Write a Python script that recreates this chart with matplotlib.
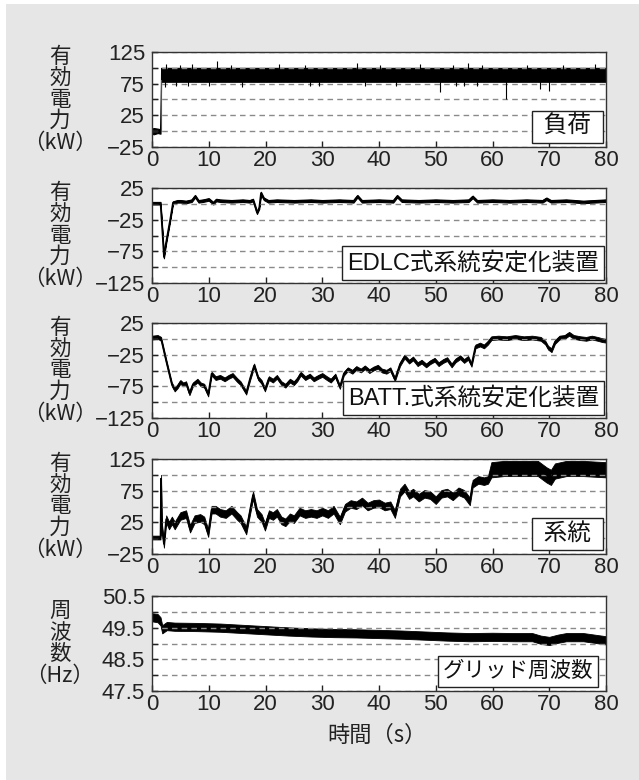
import matplotlib.pyplot as plt
from matplotlib.patches import Rectangle

plt.rcParams['font.family'] = ['Liberation Sans', 'Noto Sans CJK JP']
plt.rcParams['axes.unicode_minus'] = True

# time axis
x_ticks = [0, 10, 20, 30, 40, 50, 60, 70, 80]

# panel 1: load (kW) - band envelope
load_t = [0, 0.3, 1.0, 1.5, 1.6, 80]
load_lo = [-4, -5, -3, -4, 78, 78]
load_hi = [4, 5, 4, 3, 100, 100]
load_up_t = [2.5, 5.0, 7.1, 11.4, 14.0, 22.3, 27.0, 36.2, 40.1, 47.3, 53.0, 55.6, 58.2, 66.0, 72.4, 78.1]
load_up_v = [106, 105, 106, 110, 105, 106, 105, 107, 105, 106, 105, 108, 104, 105, 105, 106]
load_dn_t = [2.3, 4.2, 6.3, 10.0, 15.8, 27.8, 29.5, 37.5, 43.0, 50.7, 53.5, 55.0, 57.3, 62.4, 68.3, 70.0]
load_dn_v = [70, 72, 72, 72, 70, 72, 72, 72, 72, 62, 72, 72, 72, 50, 67, 64]

# panel 2: EDLC stabilizer (kW)
edlc_t = [0, 1.5, 1.8, 2.1, 2.4, 2.8, 3.2, 3.7, 4.5, 5, 6, 7, 7.6, 8.2, 9, 10, 10.8, 11.3, 12,
          14, 16, 17.2, 17.8, 18.1, 18.5, 18.9, 19.2, 19.7, 20.5, 22, 25, 28, 30, 33, 35.5, 36.2,
          37, 40, 42.5, 43.2, 44, 47, 50, 53, 55.8, 56.5, 57.3, 60, 63, 66, 68.8, 69.5, 70.3, 73,
          76, 78, 80]
edlc_v = [1, 1, -40, -84, -65, -45, -25, 2, 4, 4, 3, 5, 12, 4, 5, 7, 1, 6, 5,
          4, 5, 4, 6, -2, -14, -6, 17, 8, 4, 5, 4, 5, 4, 5, 4, 12,
          4, 5, 4, 12, 5, 4, 5, 4, 5, 11, 4, 5, 4, 5, 4, 8, 4, 5,
          3, 4, 5]

# panel 3: battery stabilizer (kW)
batt_t = [0, 1, 1.6, 2.5, 3.5, 4.0, 4.5, 5.0, 5.5, 6.0, 6.6, 7.2, 8.0, 8.6, 9.2, 9.9, 10.5, 11.2,
          12.0, 12.8, 13.5, 14.2, 15.0, 15.6, 16.6, 17.3, 18.0, 18.7, 19.3, 19.9, 20.6, 21.3, 22.0,
          22.8, 23.5, 24.3, 25.0, 25.6, 26.2, 27.0, 27.8, 28.5, 29.3, 30.0, 30.8, 31.5, 32.3, 33.1,
          33.8, 34.5, 35.3, 36.0, 36.8, 37.5, 38.3, 39.0, 39.8, 40.5, 41.3, 42.0, 42.8, 43.7, 44.5,
          45.3, 46.0, 46.8, 47.5, 48.3, 49.0, 49.8, 50.5, 51.3, 52.0, 52.8, 53.5, 54.3, 55.0, 55.7,
          56.3, 57.0, 57.8, 58.5, 59.2, 59.8, 61, 62.5, 64, 65.5, 67, 68.5, 69.3, 69.8, 70.4, 71.0,
          71.8, 72.7, 73.5, 74.3, 75.5, 76.5, 77.5, 78.5, 79.3, 80]
batt_v = [2, 3, 0, -35, -72, -80, -75, -68, -72, -70, -86, -72, -66, -72, -74, -88, -55, -62,
          -60, -64, -60, -57, -65, -70, -85, -62, -42, -62, -68, -80, -62, -66, -60,
          -70, -74, -66, -70, -64, -55, -62, -58, -64, -60, -57, -62, -66, -58, -76,
          -55, -48, -52, -46, -50, -45, -51, -47, -44, -50, -52, -48, -64, -40, -28,
          -36, -31, -40, -36, -42, -37, -33, -40, -35, -32, -42, -34, -29, -35, -30,
          -41, -12, -9, -12, -6, 1, 2, 1, 3, 1, 2, 0, -6, -14, -18, -5,
          2, 3, 8, 3, 1, 0, 2, 0, -2, -3]

# panel 4: grid (kW)
grid_t = [0, 1.5, 1.6, 1.7, 2.1, 2.5, 3.0, 3.5, 4.0, 5.0, 6.0, 6.7, 7.5, 8.5, 9.2, 9.9, 10.5, 11.2,
          12, 13, 14, 15, 15.6, 16.6, 17.3, 17.8, 18.5, 19.3, 19.9, 20.6, 21.3, 22, 22.8, 23.5,
          24.3, 25, 26, 27, 28, 29, 30, 31, 32, 33.1, 34, 35, 36, 37, 38, 39, 40, 41, 42, 42.8,
          43.7, 44.5, 45.3, 46, 47, 48, 49, 50, 51, 52, 53, 54, 55, 56, 56.5, 57.5, 58.5, 59.2,
          59.8, 62, 64, 66, 68, 69.5, 70.3, 71, 73, 76, 80]
grid_v = [1, 1, 94, 20, -9, 30, 20, 28, 20, 35, 38, 15, 30, 32, 28, 8, 45, 45,
          40, 38, 45, 35, 30, 12, 45, 68, 40, 32, 18, 38, 35, 40, 28, 25,
          33, 30, 42, 38, 40, 38, 42, 38, 45, 28, 48, 54, 52, 58, 50, 54, 55, 50, 52, 38,
          72, 80, 68, 72, 64, 70, 68, 60, 70, 72, 66, 74, 70, 58, 86, 92, 90, 92,
          108, 110, 110, 110, 110, 100, 96, 106, 110, 110, 108]

# panel 5: grid frequency (Hz)
freq_t = [0, 1, 1.5, 1.8, 2.2, 2.6, 4, 8, 12, 16, 20, 24, 28, 32, 36, 40, 44, 48, 52, 56,
          60, 64, 67, 68.5, 70, 71.5, 73, 76, 78, 80]
freq_v = [49.83, 49.8, 49.7, 49.45, 49.5, 49.55, 49.53, 49.52, 49.5, 49.46, 49.42, 49.38,
          49.35, 49.33, 49.32, 49.3, 49.28, 49.25, 49.22, 49.2, 49.21, 49.2, 49.2, 49.12,
          49.08, 49.15, 49.2, 49.2, 49.15, 49.1]

ylims = [(-25, 125), (-125, 25), (-125, 25), (-25, 125), (47.5, 50.5)]
yticks = [[-25, 0, 25, 50, 75, 100, 125],
          [-125, -100, -75, -50, -25, 0, 25],
          [-125, -100, -75, -50, -25, 0, 25],
          [-25, 0, 25, 50, 75, 100, 125],
          [47.5, 48, 48.5, 49, 49.5, 50, 50.5]]
ytick_labels = [['\u221225', '', '25', '', '75', '', '125'],
                ['\u2212125', '', '\u221275', '', '\u221225', '', '25'],
                ['\u2212125', '', '\u221275', '', '\u221225', '', '25'],
                ['\u221225', '', '25', '', '75', '', '125'],
                ['47.5', '', '48.5', '', '49.5', '', '50.5']]
ylabels = ['有\n効\n電\n力\n（kW）'] * 4 + ['周\n波\n数\n（Hz）']
box_labels = [' 負荷 ', 'EDLC式系統安定化装置', 'BATT.式系統安定化装置', ' 系統 ', 'グリッド周波数']

W, H = 639, 780
fig = plt.figure(figsize=(W / 100, H / 100), dpi=100)
fig.patch.set_facecolor('white')
fig.patches.append(Rectangle((6 / W, 0), 1, (H - 4) / H, transform=fig.transFigure,
                             facecolor='#e6e6e6', edgecolor='none', zorder=-10))

tops = [52, 188, 323, 459, 596]
left, width, height = 152, 454, 95
axes = []
for i, top in enumerate(tops):
    ax = fig.add_axes([left / W, 1 - (top + height) / H, width / W, height / H])
    axes.append(ax)
    ax.set_xlim(0, 80)
    ax.set_ylim(*ylims[i])
    ax.set_xticks(x_ticks)
    ax.set_yticks(yticks[i], labels=ytick_labels[i])
    ax.tick_params(direction='in', length=4, width=1, labelsize=16, pad=2, colors='#222222')
    ax.tick_params(axis='y', pad=5)
    ax.grid(axis='y', ls=(0, (4, 3)), color='#8a8a8a', lw=1)
    for s in ax.spines.values():
        s.set_color('#333333')
        s.set_linewidth(1)
    ax.set_facecolor('white')
    fig.text(60 / W, 1 - (top + height / 2) / H, ylabels[i], ha='center', va='center',
             fontsize=15.5, linespacing=0.97, family=['Noto Sans CJK JP'], color='#222222')

# load
ax = axes[0]
ax.fill_between(load_t, load_lo, load_hi, color='k', lw=0.8)
ax.vlines(load_up_t, 95, load_up_v, color='k', lw=0.8)
ax.vlines(load_dn_t, load_dn_v, 82, color='k', lw=0.8)
ax.plot([1.58, 1.58], [0, 80], color='#555555', lw=0.8)

# EDLC
ax = axes[1]
ax.fill_between(edlc_t, [v - 2 for v in edlc_v], [v + 2 for v in edlc_v], color='k', lw=0.8)
ax.plot(edlc_t, edlc_v, color='k', lw=1.2)

# BATT
ax = axes[2]
ax.fill_between(batt_t, [v - 3 for v in batt_v], [v + 3 for v in batt_v], color='k', lw=0.6)
ax.plot(batt_t, batt_v, color='k', lw=1.2)

# grid
ax = axes[3]
hw4 = [3 if t < 1.55 else (6 if t < 59.5 else 12) for t in grid_t]
ax.fill_between(grid_t, [v - h for v, h in zip(grid_v, hw4)], [v + h for v, h in zip(grid_v, hw4)],
                color='k', lw=0.6)
ax.plot(grid_t, grid_v, color='k', lw=1.2)

# frequency
ax = axes[4]
ax.fill_between(freq_t, [v - 0.13 for v in freq_v], [v + 0.13 for v in freq_v], color='k', lw=0.6)

box_pos = [(0.982, 0.095), (0.985, 0.09), (0.985, 0.09), (0.982, 0.095), (0.971, 0.095)]
box_size = [17, 17, 17, 17, 15.5]
for ax, lab, (bx, by), fs in zip(axes, box_labels, box_pos, box_size):
    ax.text(bx, by, lab, transform=ax.transAxes, ha='right', va='bottom', fontsize=fs,
            color='#111111', zorder=5,
            bbox=dict(boxstyle='square,pad=0.22', facecolor='white', edgecolor='#222222', lw=1))

fig.text(377 / W, 1 - 735 / H, '時間（s）', ha='center', va='center', fontsize=16,
         family=['Noto Sans CJK JP'], color='#222222')

fig.savefig('out.png', dpi=100)
